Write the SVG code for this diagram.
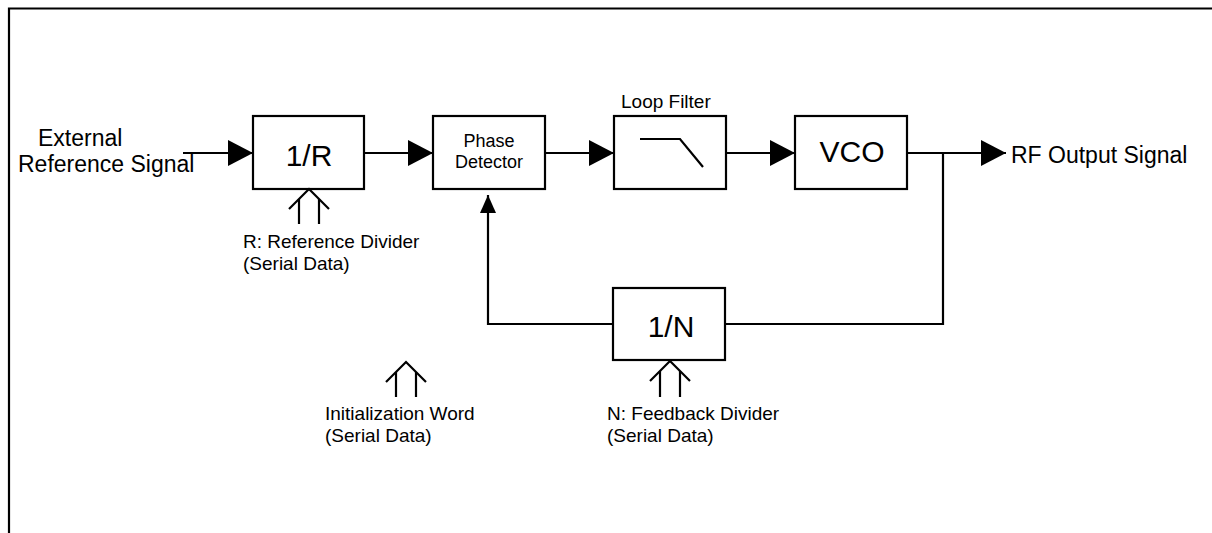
<svg xmlns="http://www.w3.org/2000/svg" width="1212" height="533" viewBox="0 0 1212 533">
<style>
.ln{fill:none;stroke:#000;stroke-width:2.2}
.box{fill:#fff;stroke:#000;stroke-width:2.2}
text{font-family:"Liberation Sans",Arial,sans-serif;fill:#000}
.big{font-size:30px;text-anchor:middle}
.lbl{font-size:19px}
.sig{font-size:23px}
.pd{font-size:18px;text-anchor:middle}
</style>
<defs>
<marker id="ah" markerUnits="userSpaceOnUse" markerWidth="26" markerHeight="28" refX="25" refY="13" orient="auto" viewBox="0 0 26 28">
<path d="M0,0 L25,13 L0,26 z" fill="#000"/>
</marker>
<marker id="ahs" markerUnits="userSpaceOnUse" markerWidth="19" markerHeight="18" refX="18" refY="8" orient="auto" viewBox="0 0 19 18">
<path d="M0,0 L18,8 L0,16 z" fill="#000"/>
</marker>
</defs>
<rect width="1212" height="533" fill="#fff"/>
<path class="ln" d="M9,533 V8.5 H1212" stroke-width="2.6"/>

<g id="connectors">
<line class="ln" x1="183" y1="153" x2="253" y2="153" marker-end="url(#ah)"/>
<line class="ln" x1="364" y1="153" x2="433" y2="153" marker-end="url(#ah)"/>
<line class="ln" x1="545" y1="153" x2="614" y2="153" marker-end="url(#ah)"/>
<line class="ln" x1="726" y1="153" x2="795" y2="153" marker-end="url(#ah)"/>
<line class="ln" x1="907" y1="153" x2="1006" y2="153" marker-end="url(#ah)"/>
<polyline class="ln" points="943,153 943,324 725,324"/>
<polyline class="ln" points="613,324 488,324 488,195" marker-end="url(#ahs)"/>
</g>

<g id="input-label">
<text class="sig" x="38" y="146">External</text>
<text class="sig" x="18" y="172">Reference Signal</text>
</g>

<g id="ref-divider">
<rect class="box" x="253" y="116" width="111" height="73"/>
<text class="big" x="309" y="166">1/R</text>
</g>
<g id="ref-divider-input">
<polyline class="ln" points="289,209 309,189 329,209"/>
<line class="ln" x1="299" y1="199" x2="299" y2="224"/>
<line class="ln" x1="319" y1="199" x2="319" y2="224"/>
<text class="lbl" x="243" y="248">R: Reference Divider</text>
<text class="lbl" x="243" y="270">(Serial Data)</text>
</g>

<g id="phase-detector">
<rect class="box" x="433" y="116" width="112" height="73"/>
<text class="pd" x="489" y="147">Phase</text>
<text class="pd" x="489" y="168">Detector</text>
</g>

<g id="loop-filter">
<text class="lbl" x="621" y="108">Loop Filter</text>
<rect class="box" x="614" y="116" width="112" height="73"/>
<polyline class="ln" points="640,139 680,139 703,167"/>
</g>

<g id="vco">
<rect class="box" x="795" y="116" width="112" height="73"/>
<text class="big" x="852" y="162" font-size="31">VCO</text>
</g>

<g id="output-label">
<text class="sig" x="1011" y="163">RF Output Signal</text>
</g>

<g id="feedback-divider">
<rect class="box" x="613" y="288" width="112" height="72"/>
<text class="big" x="671" y="337">1/N</text>
</g>
<g id="feedback-divider-input">
<polyline class="ln" points="650,381 670,361 690,381"/>
<line class="ln" x1="660" y1="371" x2="660" y2="397"/>
<line class="ln" x1="680" y1="371" x2="680" y2="397"/>
<text class="lbl" x="607" y="420">N: Feedback Divider</text>
<text class="lbl" x="607" y="442">(Serial Data)</text>
</g>

<g id="init-word">
<polyline class="ln" points="386,382 406,362 426,382"/>
<line class="ln" x1="396" y1="372" x2="396" y2="397"/>
<line class="ln" x1="416" y1="372" x2="416" y2="397"/>
<text class="lbl" x="325" y="420">Initialization Word</text>
<text class="lbl" x="325" y="442">(Serial Data)</text>
</g>
</svg>
